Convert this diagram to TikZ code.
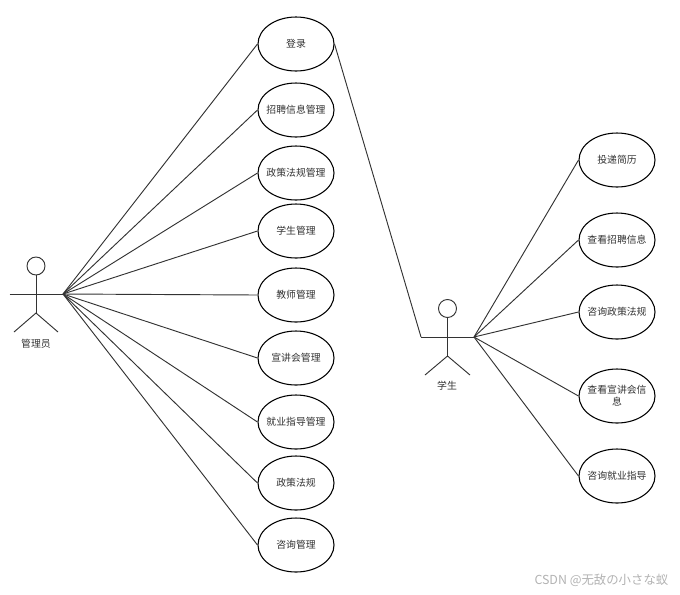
\documentclass[tikz,border=0pt]{standalone}
\usepackage{fontspec}
\setmainfont{Noto Sans CJK SC}
\usepackage{xcolor}
\definecolor{inkgray}{gray}{0.2}
\tikzset{
 usecase/.style={draw=black,fill=white,thick,ellipse,minimum width=57pt,minimum height=40.5pt,inner sep=-4pt,align=center,text=inkgray,font=\fontsize{7.4}{9}\selectfont},
 actorname/.style={text=inkgray,font=\fontsize{7.4}{9}\selectfont},
 wire/.style={draw=inkgray,line width=.7pt}
}
\usetikzlibrary{shapes.geometric}
\begin{document}
\begin{tikzpicture}[x=.75pt,y=-.75pt]
 \useasboundingbox (0,0) rectangle (680,594);
 % admin actor
 \begin{scope}
  \node[wire,circle,minimum size=13.5pt,inner sep=0pt] (adminhead) at (36,266) {};
  \coordinate (adminwaist) at (36,313);
  \coordinate (adminleft) at (9.5,294);
  \coordinate (adminhand) at (63,294);
  \coordinate (adminfootl) at (14,332);
  \coordinate (adminfootr) at (58,332);
  \draw[wire] (adminhead) -- (adminwaist);
  \draw[wire] (adminleft) -- (adminhand);
  \draw[wire] (adminfootl) -- (adminwaist) -- (adminfootr);
  \node[actorname] (adminname) at (36,344) {管理员};
 \end{scope}
 % student actor
 \begin{scope}
  \node[wire,circle,minimum size=13.5pt,inner sep=0pt] (stuhead) at (447.5,308.5) {};
  \coordinate (stuwaist) at (447.5,356);
  \coordinate (stuleft) at (421,337);
  \coordinate (stuhand) at (474,337);
  \coordinate (stufootl) at (425,375);
  \coordinate (stufootr) at (470,375);
  \draw[wire] (stuhead) -- (stuwaist);
  \draw[wire] (stuleft) -- (stuhand);
  \draw[wire] (stufootl) -- (stuwaist) -- (stufootr);
  \node[actorname] (stuname) at (447,386) {学生};
 \end{scope}
 % admin use cases
 \foreach \n/\y/\t in {a/44/登录,b/110/招聘信息管理,c/173/政策法规管理,d/231/学生管理,e/295/教师管理,f/358/宣讲会管理,g/422/就业指导管理,h/483/政策法规,i/545/咨询管理}{
  \node[usecase] (\n) at (296,\y) {\t};
  \draw[wire] (adminhand) -- (\n.west);
 }
 % student use cases
 \foreach \n/\y/\t in {p/160/投递简历,q/240/查看招聘信息,r/312/咨询政策法规,s/396/{查看宣讲会信\\息},u/476/咨询就业指导}{
  \node[usecase] (\n) at (617,\y) {\t};
  \draw[wire] (stuhand) -- (\n.west);
 }
 \draw[wire] (a.east) -- (stuleft);
 \node[text=black!30,font=\fontsize{9.3}{10}\selectfont,anchor=east] (mark) at (673,580) {CSDN @无敌の小さな蚁};
\end{tikzpicture}
\end{document}
